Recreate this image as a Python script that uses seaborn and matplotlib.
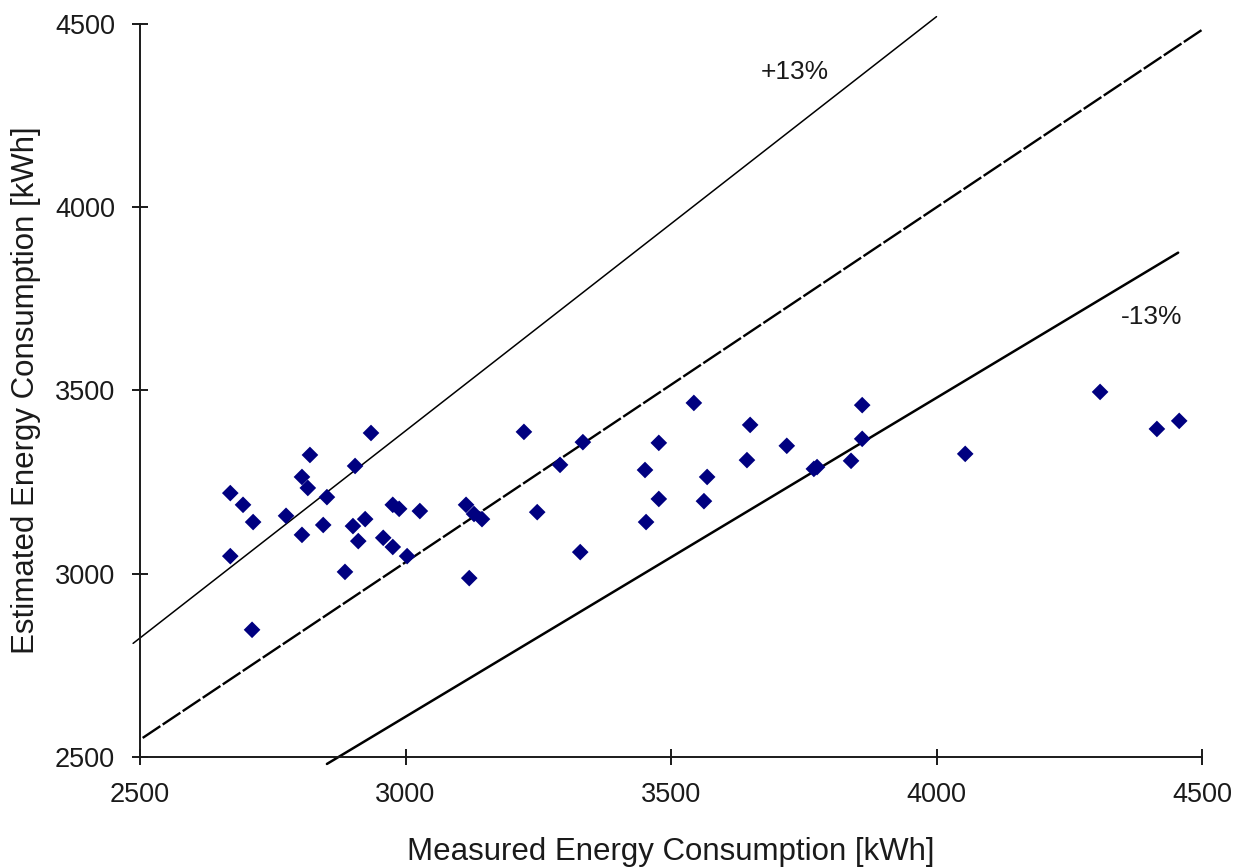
import matplotlib
matplotlib.use("Agg")
import matplotlib.pyplot as plt
import seaborn as sns
import pandas as pd

# Measured vs estimated energy consumption [kWh]
measured = [2670, 2670, 2694, 2713, 2711, 2775, 2805, 2805, 2816, 2820,
            2845, 2852, 2886, 2901, 2905, 2911, 2924, 2935, 2958, 2976,
            2976, 2988, 3003, 3027, 3114, 3120, 3129, 3144, 3223, 3248,
            3291, 3334, 3329, 3451, 3477, 3477, 3453, 3543, 3568, 3562,
            3649, 3643, 3718, 3769, 3775, 3839, 3860, 3860, 4054, 4308,
            4415, 4457]
estimated = [3220, 3048, 3188, 3141, 2847, 3158, 3264, 3106, 3234, 3324,
             3133, 3209, 3005, 3130, 3294, 3089, 3149, 3384, 3098, 3188,
             3073, 3177, 3048, 3171, 3188, 2988, 3163, 3149, 3387, 3168,
             3297, 3359, 3059, 3283, 3357, 3204, 3141, 3466, 3264, 3198,
             3406, 3310, 3349, 3286, 3291, 3308, 3460, 3368, 3327, 3496,
             3395, 3417]

# Reference lines (end points)
upper_x = [2487, 4000]
upper_y = [2810, 4520]
mid_x = [2505, 4500]
mid_y = [2552, 4484]
lower_x = [2852, 4455]
lower_y = [2481, 3876]

x_ticks = [2500, 3000, 3500, 4000, 4500]
y_ticks = [2500, 3000, 3500, 4000, 4500]

sns.set_style("ticks")
plt.rcParams['font.family'] = ['Liberation Sans', 'DejaVu Sans']

txt = '#1a1a1a'
fig = plt.figure(figsize=(12.49, 8.68), dpi=100)
ax = fig.add_axes([0.1121, 0.1279, 0.8503, 0.8445])

sns.lineplot(x=upper_x, y=upper_y, ax=ax, color='black', lw=1.1,
             clip_on=False, estimator=None, sort=False)
sns.lineplot(x=mid_x, y=mid_y, ax=ax, color='black', lw=1.7,
             linestyle=(0, (9, 1.2)), clip_on=False, estimator=None, sort=False)
sns.lineplot(x=lower_x, y=lower_y, ax=ax, color='black', lw=1.8,
             clip_on=False, estimator=None, sort=False)

df = pd.DataFrame({'measured': measured, 'estimated': estimated})
sns.scatterplot(data=df, x='measured', y='estimated', ax=ax, marker='D',
                s=72, color='#000080', edgecolor='none', zorder=5, clip_on=False)

ax.text(3733, 4369, '+13%', fontsize=19, color=txt, ha='center', va='center')
ax.text(4406, 3700, '-13%', fontsize=19, color=txt, ha='center', va='center')

ax.set_xlim(2500, 4500)
ax.set_ylim(2500, 4500)
ax.set_xticks(x_ticks)
ax.set_yticks(y_ticks)
ax.set_xticklabels([str(t) for t in x_ticks])
ax.set_yticklabels([str(t) for t in y_ticks])
ax.tick_params(direction='inout', length=12, width=1.4, colors='#1a1a1a',
               labelsize=19.5, labelcolor=txt)
ax.tick_params(axis='y', pad=12)
ax.tick_params(axis='x', pad=12)
ax.set_xlabel('Measured Energy Consumption [kWh]', fontsize=22.5, color=txt,
              labelpad=21)
ax.set_ylabel('Estimated Energy Consumption [kWh]', fontsize=22.5, color=txt,
              labelpad=10)

sns.despine(ax=ax)
for s in ['left', 'bottom']:
    ax.spines[s].set_linewidth(1.4)
    ax.spines[s].set_color('#1a1a1a')
ax.grid(False)

fig.savefig('out.png', dpi=100, facecolor='white')
